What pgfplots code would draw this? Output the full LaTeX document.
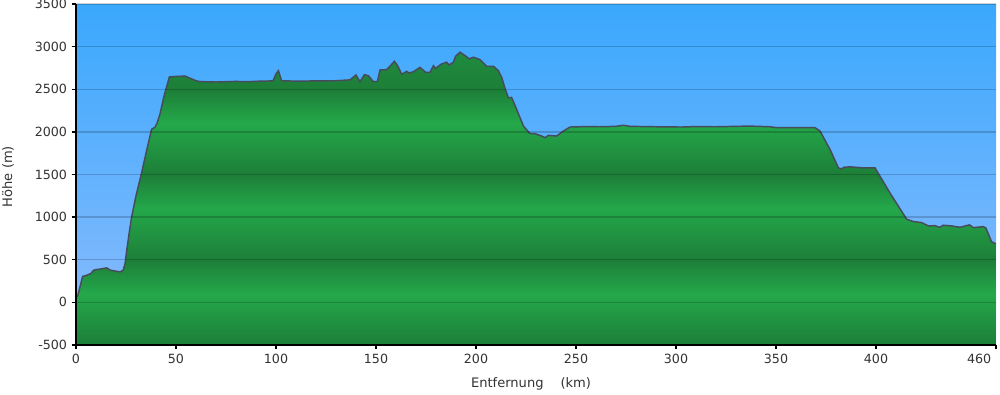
\documentclass[border=0pt]{standalone}
\usepackage{pgfplots}
\pgfplotsset{compat=1.18}
\usepackage{pgfplotstable}
\usepackage{fontspec}
\setmainfont{DejaVu Sans}
\definecolor{gdark}{RGB}{29,126,56}
\definecolor{glight}{RGB}{36,168,74}
\definecolor{gtop}{RGB}{31,140,62}
\definecolor{btop}{RGB}{58,168,253}
\definecolor{bbot}{RGB}{141,188,253}
\definecolor{profc}{RGB}{70,76,92}
\pgfdeclareverticalshading{greenbands}{100bp}{color(0bp)=(gdark); color(25bp)=(gdark); color(33.73bp)=(glight); color(39.56bp)=(gdark); color(48.29bp)=(glight); color(54.11bp)=(gdark); color(62.85bp)=(glight); color(68.67bp)=(gdark); color(75bp)=(gtop); color(100bp)=(gtop)}
\pgfplotstableread{
x y
0 -500
0 50
1 90
2.2 200
3.3 305
5 315
6.5 330
7.5 340
8.7 375
10 385
12 390
15.3 405
17 380
19 370
22 358
23.5 375
24.5 450
25.3 600
26.5 800
27.8 1000
30 1250
32.8 1520
35 1750
37.8 2030
39.5 2055
40.5 2100
42 2210
44 2420
46.7 2645
50 2650
54.5 2655
57 2630
60 2600
62 2590
70 2585
80 2592
85 2588
92 2595
98.5 2598
100 2680
101.2 2718
102.8 2600
110 2595
120 2598
130 2600
137 2610
138.5 2640
140 2667
142 2588
144.2 2671
146.2 2659
148.7 2588
150.7 2592
152 2726
155.3 2730
157 2770
159.2 2828
160.8 2777
162.8 2679
164 2690
165.3 2710
166.5 2690
168.7 2706
172 2757
174.8 2699
177 2699
178.7 2777
179.8 2746
182.8 2797
185.3 2817
186.5 2785
188.7 2817
189.8 2887
192 2935
194.5 2895
196.7 2856
198.7 2876
202 2848
205.3 2770
208.7 2770
211.2 2718
213 2630
214.5 2510
216.2 2400
217.8 2404
220.3 2266
223.7 2069
227 1979
229.5 1979
232.8 1951
234.5 1932
236.2 1959
240.3 1951
243.7 2010
247 2057
255 2062
262 2060
270 2065
273.7 2078
277 2065
290 2060
302.8 2057
310 2062
320 2060
330 2065
337 2068
347 2060
350.3 2049
369.5 2049
372 2010
377 1794
381.2 1578
382.8 1566
384 1585
387 1590
393.7 1578
399.5 1578
407 1283
415.3 976
418.7 948
422.8 936
426.2 897
429.5 900
431.7 881
433.7 905
437.8 897
442 881
446.7 909
448.7 877
453.7 889
455 870
457.8 711
459.5 692
460 690
460 -500
}\prof
\begin{document}
\begin{tikzpicture}[x=1pt,y=1pt]
\useasboundingbox (0,0) rectangle (750,295.5);
\begin{axis}[
  at={(57pt,36.75pt)}, anchor=south west,
  scale only axis, width=690pt, height=255.75pt,
  xmin=0, xmax=460, ymin=-500, ymax=3500,
  axis x line*=bottom, axis y line*=left,
  axis line style={black, line width=1.1pt, -},
  tick style={black, line width=1.1pt},
  major tick length=3.2pt, tick align=outside,
  xtick={0,50,100,150,200,250,300,350,400},
  extra x ticks={460},
  extra x tick style={xticklabel style={anchor=north east}},
  ytick={-500,0,500,1000,1500,2000,2500,3000,3500},
  ymajorgrids, grid style={black, opacity=0.18, line width=1.1pt},
  axis on top,
  axis background/.style={top color=btop, bottom color=bbot},
  /pgf/number format/assume math mode=true,
  /pgf/number format/1000 sep={},
  tick label style={font=\fontsize{9.5}{11}\selectfont, text=black!80},
  label style={font=\fontsize{9.8}{11}\selectfont, text=black!80},
  xlabel={Entfernung\hspace{1.3em}(km)},
  xlabel style={at={(axis description cs:0.4946,-0.126)}, anchor=base},
  ylabel={Höhe (m)},
  ylabel style={at={(axis description cs:-0.0739,0.494)}, anchor=center},
]
\addplot[draw=none, shade, shading=greenbands] table {\prof};
\addplot[profc, line width=1.1pt, restrict y to domain=-499:4000] table {\prof};
\end{axis}
\end{tikzpicture}
\end{document}
